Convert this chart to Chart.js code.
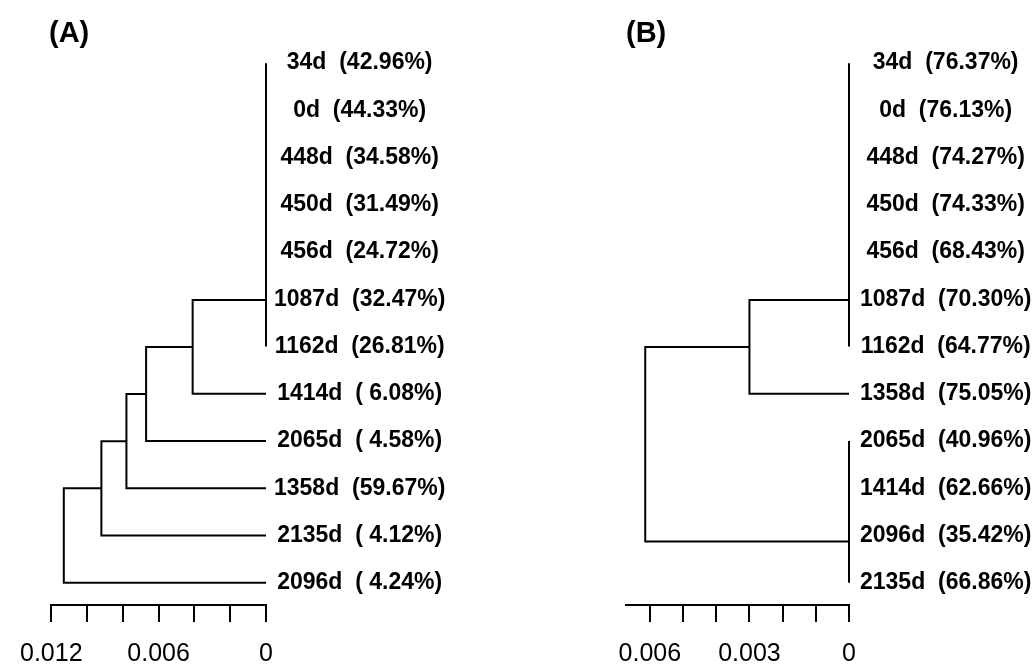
<!DOCTYPE html>
<html>
<head>
<meta charset="utf-8">
<script src="https://cdn.jsdelivr.net/npm/chart.js@4.4.0/dist/chart.umd.min.js"></script>
<style>
html,body{margin:0;padding:0;background:#fff;}
#wrap{position:relative;width:1034px;height:666px;}
canvas{position:absolute;top:0;}
#chartA{left:0;}
#chartB{left:517px;}
</style>
</head>
<body>
<div id="wrap">
<canvas id="chartA" width="517" height="666"></canvas>
<canvas id="chartB" width="517" height="666"></canvas>
</div>
<script>
/* ---------- DATA ---------- */

// (A) leaves top to bottom and the share printed next to each
const samplesA = ["34d","0d","448d","450d","456d","1087d","1162d","1414d","2065d","1358d","2135d","2096d"];
const percentA = [42.96,44.33,34.58,31.49,24.72,32.47,26.81,6.08,4.58,59.67,4.12,4.24];
// merges like R hclust: negative = leaf row (1-based), positive = earlier merge
const mergeA = [[-1,-2],[1,-3],[2,-4],[3,-5],[4,-6],[5,-7],[6,-8],[7,-9],[8,-10],[9,-11],[10,-12]];
const heightA = [0,0,0,0,0,0,0.0041,0.0067,0.0078,0.0092,0.0113];
const tickValuesA = [0.012,0.006,0];
const tickLabelsA = ["0.012","0.006","0"];

// (B)
const samplesB = ["34d","0d","448d","450d","456d","1087d","1162d","1358d","2065d","1414d","2096d","2135d"];
const percentB = [76.37,76.13,74.27,74.33,68.43,70.30,64.77,75.05,40.96,62.66,35.42,66.86];
const mergeB = [[-1,-2],[1,-3],[2,-4],[3,-5],[4,-6],[5,-7],[-9,-10],[7,-11],[8,-12],[6,-8],[10,9]];
const heightB = [0,0,0,0,0,0,0,0,0,0.003,0.00614];
const tickValuesB = [0.006,0.003,0];
const tickLabelsB = ["0.006","0.003","0"];


/* ---------- HELPERS ---------- */

const FONT = "'Liberation Sans', Arial, sans-serif";

function leafLabels(names,pct){
return names.map((n,i)=> n+"  ("+pct[i].toFixed(2).padStart(5," ")+"%)")
}

// one U-shaped line per merge, node sits midway between its two children
function dendroSets(merge,height){

const pos=[]
const sets=[]
const where=(id)=> id<0 ? {x:0,y:-id-1} : {x:height[id-1],y:pos[id-1]}

merge.forEach((m,i)=>{
const a=where(m[0]), b=where(m[1]), h=height[i]
pos.push((a.y+b.y)/2)
sets.push({
data:[{x:a.x,y:a.y},{x:h,y:a.y},{x:h,y:b.y},{x:b.x,y:b.y}],
showLine:true,
borderColor:"#000",
borderWidth:2,
pointRadius:0,
fill:false,
tension:0,
clip:false,
borderJoinStyle:"miter"
})
})

return sets
}


/* ---------- GENERIC DENDROGRAM CHART ---------- */

function createDendro(id,cfg){

const labels=leafLabels(cfg.names,cfg.pct)

return new Chart(document.getElementById(id).getContext("2d"),{
type:"scatter",
data:{datasets:dendroSets(cfg.merge,cfg.height)},
options:{
responsive:false,
animation:false,
layout:{padding:{left:cfg.left,right:0,top:0,bottom:0}},
plugins:{
legend:{display:false},
tooltip:{enabled:false},
title:{
display:true,
text:cfg.title,
align:"start",
color:"#000",
font:{family:FONT,size:29,weight:"bold",lineHeight:1.2},
padding:{top:17,bottom:0}
}
},
scales:{
x:{
type:"linear",
reverse:true,
min:0,
max:cfg.xmax,
afterBuildTicks:(s)=>{
s.ticks=s.ticks.filter(t=>{
const r=t.value/cfg.step
return Math.abs(r-Math.round(r))<1e-6
})
},
afterFit:(s)=>{ s.height=61 },
ticks:{
stepSize:cfg.step,
includeBounds:false,
autoSkip:false,
maxRotation:0,
color:"#000",
padding:20,
font:{family:FONT,size:25,lineHeight:1},
callback:(v)=>{
const i=cfg.tickValues.findIndex(t=>Math.abs(t-v)<1e-9)
return i<0 ? "" : cfg.tickLabels[i]
}
},
grid:{drawOnChartArea:false,drawTicks:true,tickLength:17,color:"#000",lineWidth:2},
border:{display:true,color:"#000",width:2}
},
y:{
type:"linear",
position:"right",
reverse:true,
min:-0.24,
max:11.47,
afterBuildTicks:(s)=>{ s.ticks=labels.map((_,i)=>({value:i})) },
afterFit:(s)=>{ s.width=cfg.axisWidth },
grid:{display:false,drawTicks:false},
border:{display:false},
ticks:{
autoSkip:false,
crossAlign:"center",
padding:cfg.labelPad,
color:"#000",
font:{family:FONT,size:23,weight:"bold"},
callback:(v)=>labels[v]
}
}
}
}
})

}


/* ---------- CREATE BOTH PANELS ---------- */

const chartA=createDendro("chartA",{
title:"(A)",names:samplesA,pct:percentA,merge:mergeA,height:heightA,
tickValues:tickValuesA,tickLabels:tickLabelsA,
xmax:0.012,step:0.002,left:49,axisWidth:251,labelPad:8
})

const chartB=createDendro("chartB",{
title:"(B)",names:samplesB,pct:percentB,merge:mergeB,height:heightB,
tickValues:tickValuesB,tickLabels:tickLabelsB,
xmax:0.00672,step:0.001,left:109,axisWidth:185,labelPad:11
})
</script>
</body>
</html>
